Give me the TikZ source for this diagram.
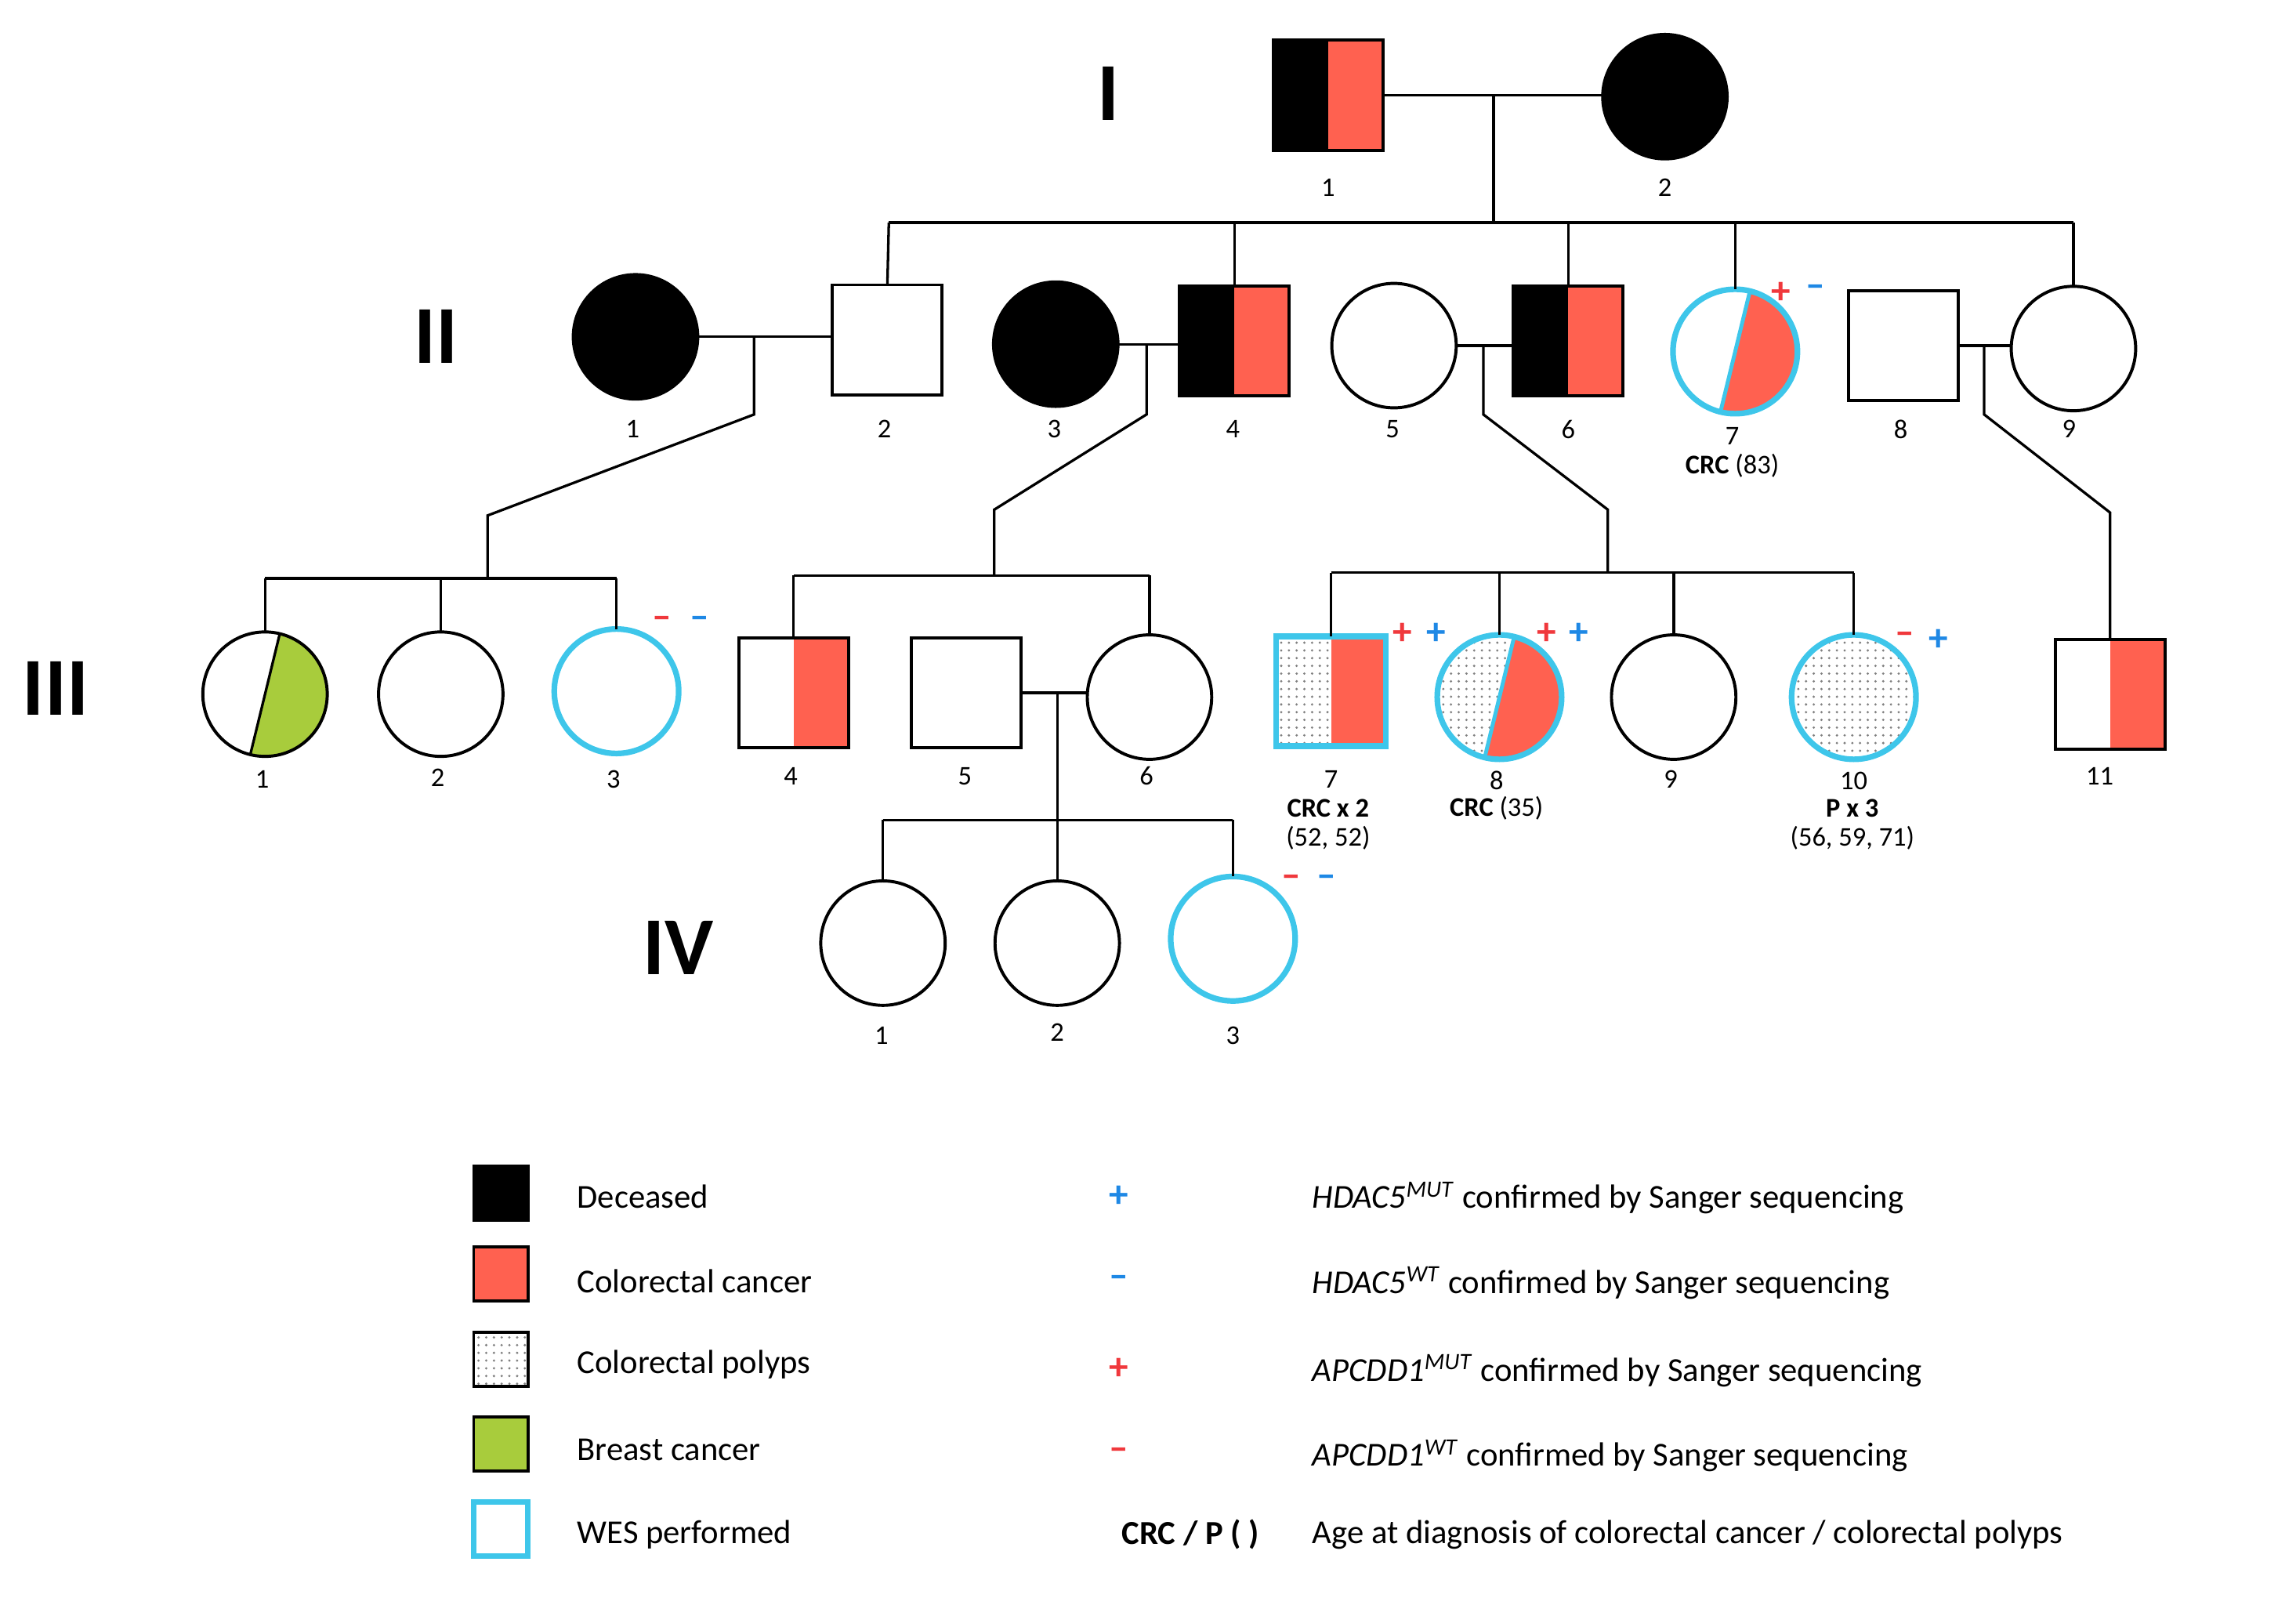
\documentclass[tikz,border=0pt]{standalone}
\usepackage{fontspec}
\setmainfont{Carlito}
\usetikzlibrary{patterns,calc}
\definecolor{crc}{HTML}{FF6150}
\definecolor{brc}{HTML}{A8CC3C}
\definecolor{wes}{HTML}{3EC6EA}
\definecolor{mb}{HTML}{1E88E5}
\definecolor{mr}{HTML}{F0383C}
\begin{document}
\begin{tikzpicture}[x=0.02cm,y=-0.02cm,
 ind/.style={draw, line width=1.2pt, inner sep=0, outer sep=0},
 fem/.style={ind, circle, minimum size=1.7cm},
 mal/.style={ind, rectangle, minimum size=1.5cm},
 wesb/.style={draw=wes, line width=2.2pt},
 dead/.style={fill=black},
 halfR/.style={path picture={\fill[crc] (path picture bounding box.north) rectangle (path picture bounding box.south east);}},
 halfBR/.style={path picture={\fill[black] (path picture bounding box.north west) rectangle (path picture bounding box.south);\fill[crc] (path picture bounding box.north) rectangle (path picture bounding box.south east);}},
 dotsL/.style={path picture={\fill[pattern=dots, pattern color=gray] (path picture bounding box.north west) rectangle (path picture bounding box.south east);}},
 dotsLR/.style={path picture={\fill[pattern=dots, pattern color=gray] (path picture bounding box.north west) rectangle (path picture bounding box.south);\fill[crc] (path picture bounding box.north) rectangle (path picture bounding box.south east);}},
 slant/.style 2 args={path picture={#2
   \fill[#1] ($(path picture bounding box.center)+(0.22cm,0.9cm)$) -- ++(2cm,0) -- ++(0,-1.8cm) -- ($(path picture bounding box.center)+(-0.22cm,-0.9cm)$) -- cycle;}},
 lab/.style={font=\fontsize{10.5}{12}\selectfont, inner sep=1pt},
 gen/.style={font=\fontsize{32}{32}\selectfont\bfseries},
 lg/.style={font=\fontsize{13}{15}\selectfont, anchor=west},
 sq/.style={draw, line width=1.2pt, minimum size=0.74cm, inner sep=0},
 pm/.style={font=\fontsize{15}{15}\selectfont\bfseries, inner sep=0},
 ln/.style={line width=1pt}]
\useasboundingbox (0,0) rectangle (1568,1103);
% generation labels
\node[gen] (gI) at (757,64) {I};
\node[gen] (gII) at (298,230) {II};
\node[gen] (gIII) at (38,470) {III};
\node[gen] (gIV) at (463,647) {IV};
% Gen I
\node[mal,halfBR] (I1) at (907,65) {};
\node[fem,dead] (I2) at (1137,66) {};
% Gen II
\node[fem,dead] (II1) at (434,230) {};
\node[mal] (II2) at (606,232) {};
\node[fem,dead] (II3) at (721,235) {};
\node[mal,halfBR] (II4) at (843,233) {};
\node[fem] (II5) at (952,236) {};
\node[mal,halfBR] (II6) at (1071,233) {};
\node[fem,wesb,slant={crc}{}] (II7) at (1185,240) {};
\node[mal] (II8) at (1300,236) {};
\node[fem] (II9) at (1416,238) {};
\draw[wes,line width=1.5pt] ($(II7.center)+(0.2cm,0.82cm)$) -- ($(II7.center)+(-0.2cm,-0.82cm)$);
% Gen III
\node[fem,slant={brc}{}] (III1) at (181,474) {};
\draw[line width=1pt] ($(III1.center)+(0.2cm,0.82cm)$) -- ($(III1.center)+(-0.2cm,-0.82cm)$);
\node[fem] (III2) at (301,474) {};
\node[fem,wesb] (III3) at (421,472) {};
\node[mal,halfR] (III4) at (542,473) {};
\node[mal] (III5) at (660,473) {};
\node[fem] (III6) at (785,476) {};
\node[mal,wesb,dotsLR] (III7) at (909,472) {};
\node[fem,wesb,slant={crc}{\fill[pattern=dots, pattern color=gray] (path picture bounding box.north west) rectangle (path picture bounding box.south east);}] (III8) at (1024,476) {};
\draw[wes,line width=1.5pt] ($(III8.center)+(0.2cm,0.82cm)$) -- ($(III8.center)+(-0.2cm,-0.82cm)$);
\node[fem] (III9) at (1143,476) {};
\node[fem,wesb,dotsL] (III10) at (1266,476) {};
\node[mal,halfR] (III11) at (1441,474) {};
% Gen IV
\node[fem] (IV1) at (603,644) {};
\node[fem] (IV2) at (722,644) {};
\node[fem,wesb] (IV3) at (842,641) {};
% connectors Gen I
\draw[ln] (I1.east) -- (I2.west|-I1.east);
\draw[ln] (1020,65) -- (1020,152);
\draw[ln] (607,152) -- (1416,152);
\draw[ln] (607,152) -- (II2.north);
\draw[ln] (843,152) -- (II4.north);
\draw[ln] (1071,152) -- (II6.north);
\draw[ln] (1185,152) -- (II7.north);
\draw[ln] (1416,152) -- (II9.north);
% Gen II marriages
\draw[ln] (II1.east) -- (II2.west|-II1.east);
\draw[ln] (II3.east) -- (II4.west|-II3.east);
\draw[ln] (II5.east) -- (II6.west|-II5.east);
\draw[ln] (II8.east) -- (II9.west|-II8.east);
\draw[ln] (515,230) -- (515,283) -- (333,352) -- (333,395);
\draw[ln] (783,235) -- (783,283) -- (679,348) -- (679,393);
\draw[ln] (1013,236) -- (1013,283) -- (1098,348) -- (1098,391);
\draw[ln] (1355,236) -- (1355,283) -- (1441,350) -- (III11.north);
% Gen III sibships
\draw[ln] (181,395) -- (421,395);
\draw[ln] (181,395) -- (III1.north);
\draw[ln] (301,395) -- (III2.north);
\draw[ln] (421,395) -- (III3.north);
\draw[ln] (542,393) -- (785,393);
\draw[ln] (542,393) -- (III4.north);
\draw[ln] (785,393) -- (III6.north);
\draw[ln] (909,391) -- (1266,391);
\draw[ln] (909,391) -- (III7.north);
\draw[ln] (1024,391) -- (III8.north);
\draw[ln] (1143,391) -- (III9.north);
\draw[ln] (1266,391) -- (III10.north);
\draw[ln] (III5.east) -- (III6.west|-III5.east);
\draw[ln] (722,473) -- (722,560);
\draw[ln] (603,560) -- (842,560);
\draw[ln] (603,560) -- (IV1.north);
\draw[ln] (722,560) -- (IV2.north);
\draw[ln] (842,560) -- (IV3.north);
% numbers
\foreach \n/\t/\x/\y in {I1/1/907/128,I2/2/1137/128,
 II1/1/432/293,II2/2/604/293,II3/3/720/293,II4/4/842/293,II5/5/951/293,II6/6/1071/293,II7/7/1183/298,II8/8/1298/293,II9/9/1413/293,
 III1/1/179/532,III2/2/299/531,III3/3/419/532,III4/4/540/530,III5/5/659/530,III6/6/783/530,III7/7/909/532,III8/8/1022/533,III9/9/1141/532,III10/10/1266/533,III11/11/1434/530,
 IV1/1/602/707,IV2/2/722/705,IV3/3/842/707}
 \node[lab] (l\n) at (\x,\y) {\t};
\node[lab] (d7) at (1183,318) {\textbf{CRC} (83)};
\node[lab] (d37a) at (907,552) {\textbf{CRC x 2}};
\node[lab] (d37b) at (907,572) {(52, 52)};
\node[lab] (d38) at (1022,552) {\textbf{CRC} (35)};
\node[lab] (d310a) at (1265,552) {\textbf{P x 3}};
\node[lab] (d310b) at (1265,572) {(56, 59, 71)};
% markers
\node[pm,text=mr] (m1) at (1216,200) {+};
\node[pm,text=mb] (m2) at (1240,199) {–};
\node[pm,text=mr] (m3) at (452,425) {–};
\node[pm,text=mb] (m4) at (478,425) {–};
\node[pm,text=mr] (m5) at (958,433) {+};
\node[pm,text=mb] (m6) at (981,433) {+};
\node[pm,text=mr] (m7) at (1056,433) {+};
\node[pm,text=mb] (m8) at (1078,433) {+};
\node[pm,text=mr] (m9) at (1301,436) {–};
\node[pm,text=mb] (m10) at (1324,437) {+};
\node[pm,text=mr] (m11) at (882,602) {–};
\node[pm,text=mb] (m12) at (906,602) {–};
% legend
\node[sq,fill=black] (k1) at (342,815) {};
\node[sq,fill=crc] (k2) at (342,870) {};
\node[sq,pattern=dots,pattern color=gray] (k3) at (342,928) {};
\node[sq,fill=brc] (k4) at (342,986) {};
\node[sq,draw=wes,line width=2pt] (k5) at (342,1044) {};
\node[lg] (t1) at (388,817) {Deceased};
\node[lg] (t2) at (388,875) {Colorectal cancer};
\node[lg] (t3) at (388,932) {Colorectal polyps};
\node[lg] (t4) at (388,990) {Breast cancer};
\node[lg] (t5) at (388,1048) {WES performed};
\node[pm,text=mb] (s1) at (764,817) {+};
\node[pm,text=mb] (s2) at (764,875) {–};
\node[pm,text=mr] (s3) at (764,935) {+};
\node[pm,text=mr] (s4) at (764,993) {–};
\node[lg,anchor=center,font=\fontsize{13}{15}\selectfont\bfseries] (s5) at (813,1048) {CRC / P ( )};
\node[lg] (r1) at (890,818) {\textit{HDAC5}\textsuperscript{\textit{MUT}} confirmed by Sanger sequencing};
\node[lg] (r2) at (890,876) {\textit{HDAC5}\textsuperscript{\textit{WT}} confirmed by Sanger sequencing};
\node[lg] (r3) at (890,936) {\textit{APCDD1}\textsuperscript{\textit{MUT}} confirmed by Sanger sequencing};
\node[lg] (r4) at (890,994) {\textit{APCDD1}\textsuperscript{\textit{WT}} confirmed by Sanger sequencing};
\node[lg] (r5) at (890,1048) {Age at diagnosis of colorectal cancer / colorectal polyps};
\end{tikzpicture}
\end{document}
